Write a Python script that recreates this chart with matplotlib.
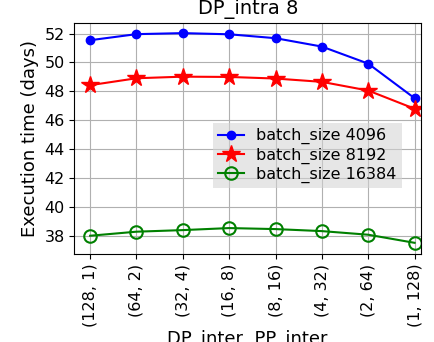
import matplotlib
matplotlib.use("Agg")
import matplotlib.pyplot as plt

configs = ["(128, 1)", "(64, 2)", "(32, 4)", "(16, 8)", "(8, 16)", "(4, 32)", "(2, 64)", "(1, 128)"]
bs_4096 = [51.54, 51.96, 52.03, 51.95, 51.68, 51.1, 49.92, 47.53]
bs_8192 = [48.43, 48.91, 49.02, 49.0, 48.89, 48.66, 48.06, 46.8]
bs_16384 = [38.02, 38.3, 38.41, 38.55, 38.48, 38.34, 38.09, 37.53]

fig = plt.figure(figsize=(4.35, 3.42), dpi=100)
ax = fig.add_axes([0.171, 0.257, 0.797, 0.677])

x = range(len(configs))
ax.plot(x, bs_4096, color="blue", marker="o", markersize=6, label="batch_size 4096")
ax.plot(x, bs_8192, color="red", marker="*", markersize=13, label="batch_size 8192")
ax.plot(x, bs_16384, color="green", marker="o", markersize=9, markerfacecolor="none",
        markeredgewidth=1.5, label="batch_size 16384")

ax.set_xticks(list(x))
ax.set_xticklabels(configs, rotation=90, fontsize=11.5)
ax.set_yticks([38, 40, 42, 44, 46, 48, 50, 52])
ax.tick_params(axis="y", labelsize=11.5)
ax.set_ylim(36.75, 52.76)
ax.set_xlim(-0.34, 7.14)
ax.grid(True, color="#b0b0b0")
ax.set_axisbelow(True)

ax.set_title("DP_intra 8", fontsize=14)
ax.set_xlabel("DP_inter, PP_inter", fontsize=13, labelpad=2)
ax.set_ylabel("Execution time (days)", fontsize=13)

leg = ax.legend(loc="center right", bbox_to_anchor=(0.967, 0.425), fontsize=11.5,
                frameon=True, fancybox=False, facecolor="#d3d3d3", edgecolor="none",
                framealpha=0.55, handlelength=1.6, borderpad=0.3, labelspacing=0.2)

plt.savefig("out.png")
